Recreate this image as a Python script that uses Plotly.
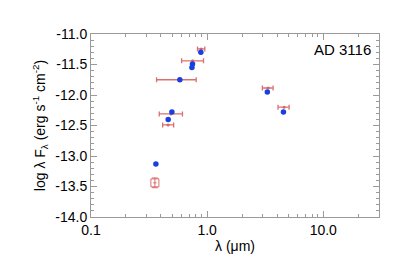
import plotly.graph_objects as go

# Model / photometry values
blue_wl = [0.362, 0.462, 0.497, 0.582, 0.748, 0.740, 0.883, 3.30, 4.54]
blue_flux = [-13.13, -12.40, -12.28, -11.75, -11.49, -11.55, -11.30, -11.95, -12.28]

red_wl = [0.461, 0.487, 0.582, 0.750, 0.888, 3.35, 4.60]
red_wl_lo = [0.414, 0.387, 0.367, 0.603, 0.826, 2.99, 4.08]
red_wl_hi = [0.515, 0.613, 0.805, 0.931, 0.955, 3.70, 5.08]
red_flux = [-12.49, -12.31, -11.75, -11.44, -11.245, -11.885, -12.20]

uv_wl = [0.355]
uv_wl_lo = [0.343]
uv_wl_hi = [0.367]
uv_flux = [-13.44]
uv_err = [0.08]

x_tickvals = [0.1, 1.0, 10.0]
x_ticktext = ["0.1", "1.0", "10.0"]
x_minor = [0.2, 0.3, 0.4, 0.5, 0.6, 0.7, 0.8, 0.9, 2, 3, 4, 5, 6, 7, 8, 9, 20, 30]
y_tickvals = [-11.0, -11.5, -12.0, -12.5, -13.0, -13.5, -14.0]
y_ticktext = ["-11.0", "-11.5", "-12.0", "-12.5", "-13.0", "-13.5", "-14.0"]

RED = "rgba(215,95,95,0.9)"
BLUE = "#1a3fe0"
GRID = "#9a9a9a"
FONT = "Liberation Sans, Arial, sans-serif"

fig = go.Figure()

fig.add_trace(go.Scatter(
    x=red_wl, y=red_flux, mode="markers",
    marker=dict(color=RED, size=3),
    error_x=dict(type="data", symmetric=False,
                 array=[h - c for h, c in zip(red_wl_hi, red_wl)],
                 arrayminus=[c - l for c, l in zip(red_wl, red_wl_lo)],
                 color=RED, thickness=1.3, width=2.5),
    showlegend=False,
))

fig.add_trace(go.Scatter(
    x=uv_wl, y=uv_flux, mode="markers",
    marker=dict(color=RED, size=8, symbol="square-open",
                line=dict(color=RED, width=1)),
    error_x=dict(type="data", symmetric=False,
                 array=[h - c for h, c in zip(uv_wl_hi, uv_wl)],
                 arrayminus=[c - l for c, l in zip(uv_wl, uv_wl_lo)],
                 color=RED, thickness=1, width=0),
    error_y=dict(type="data", array=uv_err, color=RED, thickness=1, width=3),
    showlegend=False,
))

fig.add_trace(go.Scatter(
    x=blue_wl, y=blue_flux, mode="markers",
    marker=dict(color=BLUE, size=5.5),
    showlegend=False,
))

fig.add_annotation(
    text="AD 3116", x=0.98, y=0.97, xref="paper", yref="paper",
    xanchor="right", yanchor="top", showarrow=False,
    font=dict(size=15, color="black", family=FONT),
)

axis_common = dict(
    showline=True, linecolor=GRID, linewidth=1, mirror="ticks",
    ticks="inside", tickcolor=GRID, showgrid=False, zeroline=False,
    tickfont=dict(size=14, color="black", family=FONT),
)

fig.update_xaxes(
    type="log", range=[-1, 1.48],
    tickvals=x_tickvals, ticktext=x_ticktext, ticklen=6,
    minor=dict(tickvals=x_minor, ticks="inside", ticklen=3, tickcolor=GRID, showgrid=False),
    title=dict(text="λ (μm)", font=dict(size=14, color="black", family=FONT), standoff=4),
    **axis_common,
)
fig.update_yaxes(
    range=[-14, -11],
    tickvals=y_tickvals, ticktext=y_ticktext, ticklen=6,
    minor=dict(dtick=0.1, ticks="inside", ticklen=3, tickcolor=GRID, showgrid=False),
    title=dict(text="log λ F<sub>λ</sub> (erg s<sup>-1</sup> cm<sup>-2</sup>)",
               font=dict(size=14, color="black", family=FONT), standoff=6),
    **axis_common,
)

fig.update_layout(
    width=395, height=263,
    margin=dict(l=83, r=24, t=26, b=54),
    paper_bgcolor="white", plot_bgcolor="white",
    font=dict(family=FONT, color="black"),
)

fig.write_html("out.html")
